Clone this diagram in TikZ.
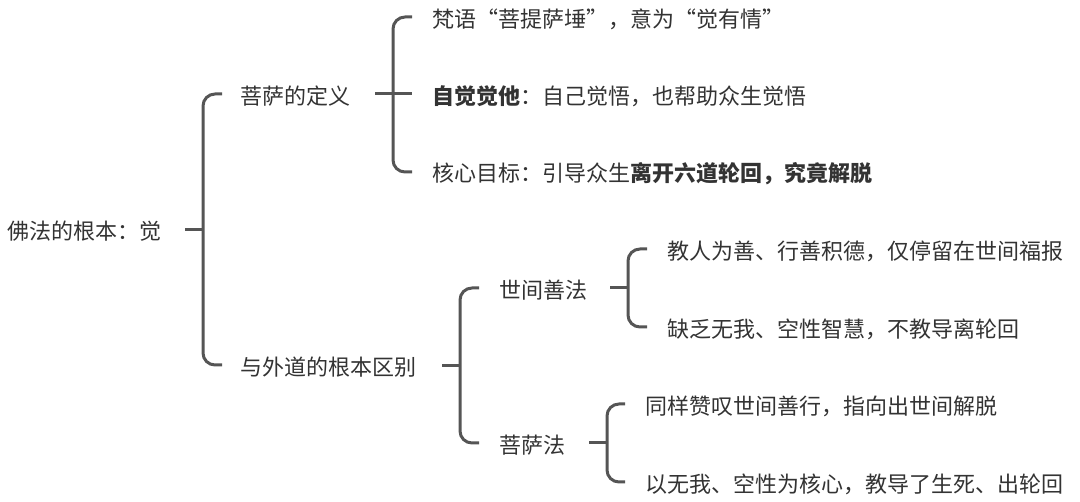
\documentclass[tikz,border=0pt]{standalone}
\usepackage{fontspec}
\setmainfont{Noto Sans CJK SC}
\newfontfamily\fwq[CharacterWidth=Full]{Noto Sans CJK SC}
\newcommand{\myLq}{{\fwq “}}
\newcommand{\myRq}{{\fwq ”}}
\definecolor{linec}{HTML}{555555}
\definecolor{textc}{HTML}{333333}
\tikzset{
  ln/.style={draw=linec, line width=3pt, line cap=butt},
  br/.style={ln, rounded corners=12pt},
  lbl/.style={anchor=west, inner sep=0pt, text=textc, font=\fontsize{22pt}{26pt}\selectfont},
}
\begin{document}
\begin{tikzpicture}[x=1pt,y=-1pt]
\useasboundingbox (0,0) rectangle (1080,502);
% nodes
\node[lbl] (root) at (7,231) {佛法的根本：觉};
\node[lbl] (def) at (240,96) {菩萨的定义};
\node[lbl] (diff) at (240,367) {与外道的根本区别};
\node[lbl] (d1) at (432,19) {梵语\myLq 菩提萨埵\myRq ，意为\myLq 觉有情\myRq};
\node[lbl] (d2) at (432,96) {\textbf{自觉觉他}：自己觉悟，也帮助众生觉悟};
\node[lbl] (d3) at (432,174) {核心目标：引导众生\textbf{离开六道轮回，究竟解脱}};
\node[lbl] (sj) at (499,290) {世间善法};
\node[lbl] (ps) at (499,445) {菩萨法};
\node[lbl] (s1) at (667,251) {教人为善、行善积德，仅停留在世间福报};
\node[lbl] (s2) at (667,329) {缺乏无我、空性智慧，不教导离轮回};
\node[lbl] (p1) at (645,406) {同样赞叹世间善行，指向出世间解脱};
\node[lbl] (p2) at (645,484) {以无我、空性为核心，教导了生死、出轮回};
% bracket spines
\coordinate (v1) at (203,230);
\coordinate (v2) at (393,94);
\coordinate (v3) at (460,366);
\coordinate (v4) at (628,288);
\coordinate (v5) at (607,443);
% level 1
\draw[ln] (v1) -- ++(-18,0) coordinate (r0);
\draw[br] ([xshift=-18pt]def.west |- 0,94) -| (v1) |- ([xshift=-18pt]diff.west |- 0,365);
% level 2 top
\draw[ln] (v2) -- ++(-18,0) coordinate (r1);
\draw[br] ([xshift=-20pt]d1.west |- 0,17) -| (v2) |- ([xshift=-20pt]d3.west |- 0,172);
\draw[ln] (v2) -- ([xshift=-20pt]d2.west |- 0,94);
% level 2 bottom
\draw[ln] (v3) -- ++(-18,0) coordinate (r2);
\draw[br] ([xshift=-20pt]sj.west |- 0,288) -| (v3) |- ([xshift=-20pt]ps.west |- 0,443);
% level 3
\draw[ln] (v4) -- ++(-18,0) coordinate (r3);
\draw[br] ([xshift=-20pt]s1.west |- 0,249) -| (v4) |- ([xshift=-20pt]s2.west |- 0,327);
\draw[ln] (v5) -- ++(-18,0) coordinate (r4);
\draw[br] ([xshift=-20pt]p1.west |- 0,404) -| (v5) |- ([xshift=-20pt]p2.west |- 0,482);
\end{tikzpicture}
\end{document}
